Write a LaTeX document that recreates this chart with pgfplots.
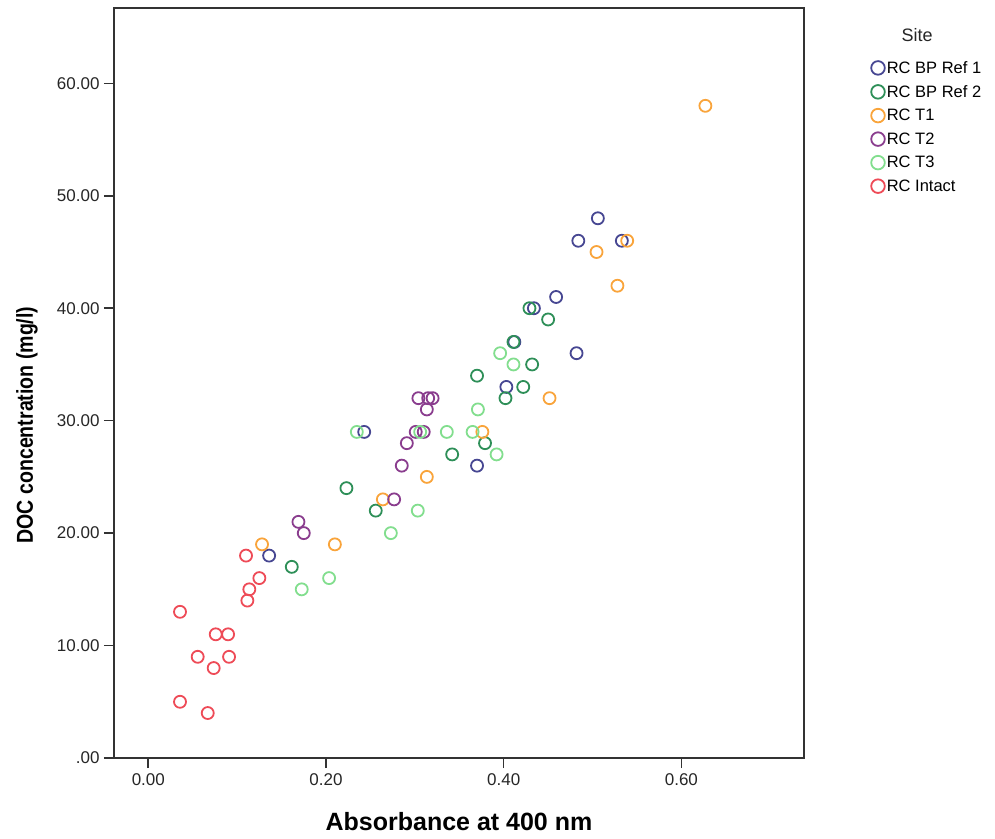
\documentclass[border=0pt]{standalone}
\usepackage{fontspec}
\setmainfont{Liberation Sans}
\usepackage{pgfplots}
\pgfplotsset{compat=1.18}
\definecolor{cA}{HTML}{474792}
\definecolor{cB}{HTML}{2E8F58}
\definecolor{cC}{HTML}{F9A43B}
\definecolor{cD}{HTML}{8A3D8E}
\definecolor{cE}{HTML}{82DE8E}
\definecolor{cF}{HTML}{EE4B57}
\begin{document}
\begin{tikzpicture}[x=1pt,y=1pt]
\begin{axis}[
  scale only axis, width=690pt, height=750pt,
  xmin=-0.0386, xmax=0.738, ymin=0, ymax=66.7,
  axis line style={line width=1.6pt, color=black!80},
  every tick/.style={line width=1.6pt, color=black!80},
  tick align=outside, major tick length=10pt,
  xtick={0,0.2,0.4,0.6}, xticklabels={0.00,0.20,0.40,0.60},
  ytick={0,10,20,30,40,50,60},
  yticklabels={.00,10.00,20.00,30.00,40.00,50.00,60.00},
  xtick pos=bottom, ytick pos=left,
  /pgf/number format/assume math mode=true,
  ticklabel style={font=\fontsize{17}{20}\selectfont, text=black!85},
  xticklabel style={yshift=-2pt},
  yticklabel style={xshift=-1pt},
  xlabel={Absorbance at 400 nm},
  ylabel={\scalebox{0.85}[1]{DOC concentration (mg/l)}},
  xlabel style={font=\fontsize{25}{29}\selectfont\bfseries, at={([yshift=-64pt]rel axis cs:0.5,0)}, anchor=center},
  ylabel style={font=\fontsize{23}{27}\selectfont\bfseries, at={([xshift=-87pt,yshift=-42pt]rel axis cs:0,0.5)}, anchor=center},
  legend style={at={([xshift=67pt,yshift=-51pt]rel axis cs:1,1)}, anchor=north west,
    draw=none, fill=none, font=\fontsize{16.5}{19}\selectfont, row sep=6.5pt,
    inner sep=0pt},
  legend image code/.code={\draw[mark size=6.8pt, line width=1.8pt] plot coordinates {(7pt,0pt)};},
  legend cell align=left,
  every axis plot/.append style={only marks, mark=o, mark size=6pt, line width=1.8pt},
]
% RC BP Ref 1
\addplot[color=cA] coordinates {
(0.506,48) (0.484,46) (0.533,46) (0.459,41) (0.434,40) (0.412,37)
(0.482,36) (0.403,33) (0.370,26) (0.243,29) (0.136,18)
};
\addlegendentry{RC BP Ref 1}
% RC BP Ref 2
\addplot[color=cB] coordinates {
(0.429,40) (0.450,39) (0.411,37) (0.432,35) (0.370,34) (0.422,33)
(0.402,32) (0.379,28) (0.342,27) (0.223,24) (0.256,22) (0.1615,17)
};
\addlegendentry{RC BP Ref 2}
% RC T1
\addplot[color=cC] coordinates {
(0.627,58) (0.539,46) (0.5045,45) (0.528,42) (0.4516,32) (0.376,29)
(0.3135,25) (0.264,23) (0.210,19) (0.128,19)
};
\addlegendentry{RC T1}
% RC T2
\addplot[color=cD] coordinates {
(0.304,32) (0.315,32) (0.320,32) (0.3135,31) (0.301,29) (0.310,29)
(0.291,28) (0.2853,26) (0.2767,23) (0.169,21) (0.175,20)
};
\addlegendentry{RC T2}
% RC T3
\addplot[color=cE] coordinates {
(0.396,36) (0.411,35) (0.371,31) (0.2347,29) (0.306,29) (0.336,29)
(0.365,29) (0.392,27) (0.3033,22) (0.273,20) (0.2035,16) (0.1727,15)
};
\addlegendentry{RC T3}
% RC Intact
\addplot[color=cF] coordinates {
(0.110,18) (0.125,16) (0.1137,15) (0.1115,14) (0.0357,13) (0.0759,11)
(0.0898,11) (0.0556,9) (0.0909,9) (0.0736,8) (0.0357,5) (0.0669,4)
};
\addlegendentry{RC Intact}
\end{axis}
\node[font=\fontsize{18}{21}\selectfont, text=black!85, anchor=center] at ([xshift=113pt,yshift=-27pt]current axis.north east) {Site};
\pgfresetboundingbox
\useasboundingbox ([xshift=-114pt,yshift=-80pt]current axis.south west) rectangle ++(995pt,838pt);
\end{tikzpicture}
\end{document}
